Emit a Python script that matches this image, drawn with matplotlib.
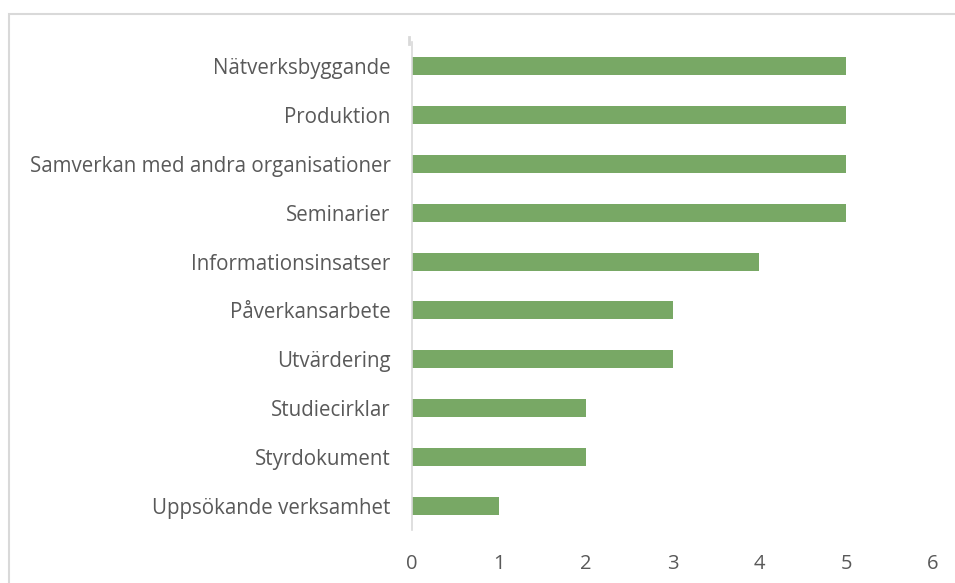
import matplotlib.pyplot as plt
from matplotlib.patches import Rectangle
from matplotlib.lines import Line2D

# Data (bottom to top as drawn)
categories = [
    "Uppsökande verksamhet",
    "Styrdokument",
    "Studiecirklar",
    "Utvärdering",
    "Påverkansarbete",
    "Informationsinsatser",
    "Seminarier",
    "Samverkan med andra organisationer",
    "Produktion",
    "Nätverksbyggande",
]
values = [1, 2, 2, 3, 3, 4, 5, 5, 5, 5]
xticks = [0, 1, 2, 3, 4, 5, 6]

plt.rcParams['font.family'] = ['Open Sans', 'DejaVu Sans']

fig = plt.figure(figsize=(9.55, 5.83), dpi=100)
ax = fig.add_axes([0.4314, 0.0909, 0.5456, 0.837])

# chart frame, cut off at right and bottom like the original
fig.patches.append(Rectangle((8.5 / 955, -0.1), 1.1, (583 - 13.5) / 583 + 0.1,
                             transform=fig.transFigure, fill=False,
                             edgecolor='#d9d9d9', linewidth=1.5))
# small stub above the axis
fig.lines.append(Line2D([408.5 / 955, 408.5 / 955], [1 - 37 / 583, 1 - 44 / 583],
                        transform=fig.transFigure, color='#d9d9d9', linewidth=2))

ax.barh(range(len(categories)), values, height=0.37, color='#78a865')
ax.set_xlim(0, 6)
ax.set_ylim(-0.5, len(categories) - 0.5)
ax.set_xticks(xticks)
ax.set_yticks(range(len(categories)))
ax.set_yticklabels(categories)

for s in ['top', 'right', 'bottom']:
    ax.spines[s].set_visible(False)
ax.spines['left'].set_color('#d9d9d9')
ax.spines['left'].set_linewidth(1.2)

ax.tick_params(axis='both', length=0, colors='#595959')
ax.tick_params(axis='x', pad=17, labelsize=14.5)
ax.tick_params(axis='y', pad=15.5, labelsize=14.8)

fig.savefig('out.png', dpi=100)
